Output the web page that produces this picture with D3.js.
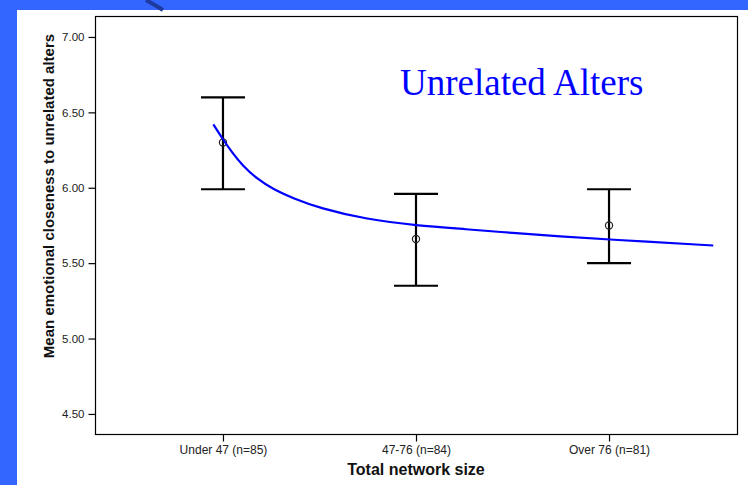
<!DOCTYPE html>
<html>
<head>
<meta charset="utf-8">
<script src="https://cdn.jsdelivr.net/npm/d3@7"></script>
<style>
  body { margin: 0; background: #fff; }
  svg { display: block; }
</style>
</head>
<body>
<div id="chart"></div>
<script>
// data
var categories = ['Under 47 (n=85)', '47-76 (n=84)', 'Over 76 (n=81)'];
var means = [6.30, 5.66, 5.75];
var upper = [6.60, 5.96, 5.99];
var lower = [5.99, 5.35, 5.50];
var yTicks = [4.50, 5.00, 5.50, 6.00, 6.50, 7.00];

// fitted curve, position along the category axis (0 = first group) and value
var fitPos = [-0.05, 0, 0.05, 0.1, 0.175, 0.26, 0.364, 0.5, 0.745, 1.0, 1.263, 1.5, 1.746, 2.0, 2.54];
var fitVal = [6.42, 6.32, 6.23, 6.15, 6.06, 5.99, 5.93, 5.865, 5.79, 5.75, 5.725, 5.70, 5.677, 5.657, 5.617];

var config = {
  width: 748,
  height: 485,
  left: 95,
  right: 737,
  top: 16,
  bottom: 434,
  yDomain: [4.367, 7.139],
  tickSize: 7,
  capHalf: 22,
  frameBlue: '#3366ff',
  sans: 'Arial, "Liberation Sans", sans-serif',
  serif: '"Liberation Serif", "Times New Roman", serif'
};

var svg = d3.select('#chart').append('svg')
  .attr('width', config.width)
  .attr('height', config.height);

// slide background: blue border strips on top and left
svg.append('rect')
  .attr('width', config.width).attr('height', config.height)
  .attr('fill', config.frameBlue);
svg.append('rect')
  .attr('x', 17).attr('y', 10)
  .attr('width', config.width - 17).attr('height', config.height - 10)
  .attr('fill', '#fff');
svg.append('path')
  .attr('d', 'M146,0 Q155,5 163,10')
  .attr('fill', 'none')
  .attr('stroke', '#1f3a9e')
  .attr('stroke-width', 4);

var x = d3.scalePoint()
  .domain(categories)
  .range([config.left, config.right])
  .padding(0.663);

var y = d3.scaleLinear()
  .domain(config.yDomain)
  .range([config.bottom, config.top]);

var xFit = d3.scaleLinear()
  .domain([0, 2])
  .range([x(categories[0]), x(categories[2])]);

// plot frame
svg.append('rect')
  .attr('x', config.left + 0.5).attr('y', config.top + 0.5)
  .attr('width', config.right - config.left).attr('height', config.bottom - config.top)
  .attr('fill', 'none')
  .attr('stroke', '#000')
  .attr('stroke-width', 1.2);

// y axis
var yAxis = d3.axisLeft(y)
  .tickValues(yTicks)
  .tickFormat(d3.format('.2f'))
  .tickSize(config.tickSize)
  .tickPadding(4);

var gy = svg.append('g')
  .attr('transform', 'translate(' + (config.left + 0.5) + ',0)')
  .call(yAxis);
gy.select('.domain').remove();
gy.selectAll('line').attr('stroke', '#000').attr('stroke-width', 1.2);
gy.selectAll('text')
  .style('font-size', '11.5px')
  .style('font-family', config.sans)
  .attr('fill', '#222');

// x axis
var xAxis = d3.axisBottom(x)
  .tickSize(config.tickSize)
  .tickPadding(4);

var gx = svg.append('g')
  .attr('transform', 'translate(0,' + (config.bottom + 0.5) + ')')
  .call(xAxis);
gx.select('.domain').remove();
gx.selectAll('line').attr('stroke', '#000').attr('stroke-width', 1.2);
gx.selectAll('text')
  .style('font-size', '12px')
  .style('font-family', config.sans)
  .attr('fill', '#222');

// axis titles
svg.append('text')
  .attr('x', x(categories[1]))
  .attr('y', 475)
  .attr('text-anchor', 'middle')
  .style('font-family', config.sans)
  .style('font-size', '16px')
  .style('font-weight', 'bold')
  .attr('fill', '#111')
  .text('Total network size');

svg.append('text')
  .attr('transform', 'translate(54,196) rotate(-90)')
  .attr('text-anchor', 'middle')
  .style('font-family', config.sans)
  .style('font-size', '15px')
  .style('font-weight', 'bold')
  .attr('fill', '#111')
  .text('Mean emotional closeness to unrelated alters');

// error bars
var bars = svg.append('g').selectAll('g')
  .data(categories)
  .enter().append('g');

bars.append('line')
  .attr('x1', function(d){ return x(d); })
  .attr('x2', function(d){ return x(d); })
  .attr('y1', function(d, i){ return y(upper[i]); })
  .attr('y2', function(d, i){ return y(lower[i]); })
  .attr('stroke', '#000')
  .attr('stroke-width', 2.2);

bars.append('line')
  .attr('x1', function(d){ return x(d) - config.capHalf; })
  .attr('x2', function(d){ return x(d) + config.capHalf; })
  .attr('y1', function(d, i){ return y(upper[i]); })
  .attr('y2', function(d, i){ return y(upper[i]); })
  .attr('stroke', '#000')
  .attr('stroke-width', 2.2);

bars.append('line')
  .attr('x1', function(d){ return x(d) - config.capHalf; })
  .attr('x2', function(d){ return x(d) + config.capHalf; })
  .attr('y1', function(d, i){ return y(lower[i]); })
  .attr('y2', function(d, i){ return y(lower[i]); })
  .attr('stroke', '#000')
  .attr('stroke-width', 2.2);

// fitted curve
var fitData = fitPos.map(function(p, i){ return [p, fitVal[i]]; });
svg.append('path')
  .datum(fitData)
  .attr('fill', 'none')
  .attr('stroke', '#0000ff')
  .attr('stroke-width', 2.2)
  .attr('d', d3.line()
    .x(function(d){ return xFit(d[0]); })
    .y(function(d){ return y(d[1]); })
    .curve(d3.curveBasis));

// mean markers
bars.append('circle')
  .attr('cx', function(d){ return x(d); })
  .attr('cy', function(d, i){ return y(means[i]); })
  .attr('r', 3.6)
  .attr('fill', 'none')
  .attr('stroke', '#222')
  .attr('stroke-width', 1.2);

// title
svg.append('text')
  .attr('x', 400)
  .attr('y', 95)
  .style('font-family', config.serif)
  .style('font-size', '37px')
  .attr('fill', '#0000ff')
  .text('Unrelated Alters');
</script>
</body>
</html>
